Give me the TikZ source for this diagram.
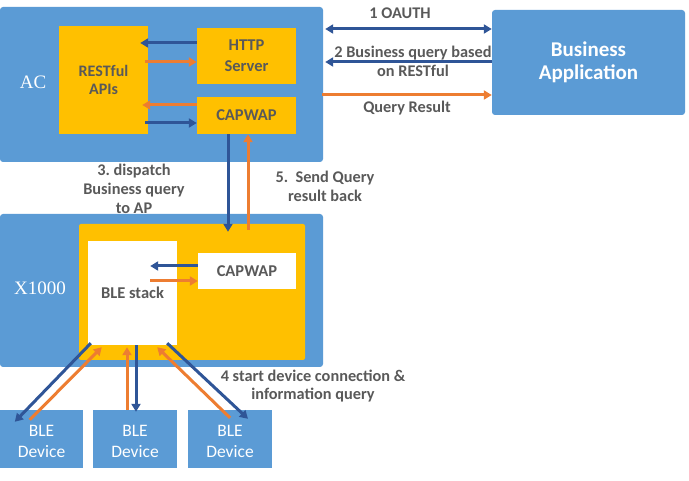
\documentclass[tikz,border=0pt]{standalone}
\usepackage{fontspec}
\setmainfont{Carlito}
\newfontfamily\serifac{Liberation Serif}
\usetikzlibrary{arrows.meta}
\frenchspacing
\definecolor{boxblue}{HTML}{5B9BD5}
\definecolor{boxyellow}{HTML}{FFC000}
\definecolor{arrblue}{HTML}{2F5597}
\definecolor{arrorange}{HTML}{ED7D31}
\definecolor{txtgray}{HTML}{595959}
\tikzset{
  bluebox/.style={fill=boxblue, draw=none, rounded corners=3pt, inner sep=0pt},
  yelbox/.style={fill=boxyellow, draw=none, inner sep=0pt, align=center, text=txtgray, font=\bfseries\fontsize{16.5}{21}\selectfont},
  whitebox/.style={fill=white, draw=none, inner sep=0pt, align=center, text=txtgray, font=\bfseries\fontsize{16.5}{19}\selectfont},
  devbox/.style={fill=boxblue, draw=none, inner sep=0pt, align=center, text=white, font=\fontsize{17.5}{21}\selectfont},
  devtxt/.style={text=white, align=center, font=\fontsize{17.5}{21}\selectfont, inner sep=0pt},
  lbl/.style={text=txtgray, align=center, font=\bfseries\fontsize{16.3}{18.7}\selectfont, inner sep=0pt},
  sertxt/.style={text=white, font=\serifac\fontsize{19}{22}\selectfont, inner sep=0pt},
  barrow/.style={draw=arrblue, line width=3pt, -{Triangle[length=8pt,width=9pt]}},
  oarrow/.style={draw=arrorange, line width=3pt, -{Triangle[length=8pt,width=9pt]}},
  bdarrow/.style={draw=arrblue, line width=3pt, {Triangle[length=8pt,width=9pt]}-{Triangle[length=8pt,width=9pt]}},
}
\begin{document}
\begin{tikzpicture}[x=1pt,y=-1pt]
\useasboundingbox (0,0) rectangle (689,481);
% AC
\node[bluebox, minimum width=323pt, minimum height=155pt] (ac) at (161.5,84.5) {};
\node[sertxt] (actxt) at (33,82) {AC};
\node[yelbox, minimum width=89pt, minimum height=108pt, font=\bfseries\fontsize{16}{18}\selectfont] (rest) at (103.5,80) {RESTful\\APIs};
\node[yelbox, minimum width=99pt, minimum height=56pt] (http) at (246.5,56) {HTTP\\Server};
\node[yelbox, minimum width=99pt, minimum height=37pt] (cap1) at (246.5,115.5) {CAPWAP};
% Business Application
\node[bluebox, minimum width=193pt, minimum height=105pt, text=white, align=center, font=\bfseries\fontsize{21}{23.5}\selectfont] (ba) at (588.5,62.5) {Business\\Application};
% X1000
\node[bluebox, minimum width=323pt, minimum height=153pt] (x1000) at (161.5,290.5) {};
\node[sertxt] (xtxt) at (40,288) {X1000};
\node[yelbox, minimum width=226pt, minimum height=136pt, rounded corners=2pt] (yel2) at (192,292) {};
\node[whitebox, minimum width=89pt, minimum height=104pt] (ble) at (132.5,293) {BLE stack};
\node[whitebox, minimum width=98pt, minimum height=36pt] (cap2) at (247,271) {CAPWAP};
% devices
\node[devbox, minimum width=83pt, minimum height=58pt] (dev1) at (41.5,439) {};
\node[devbox, minimum width=84pt, minimum height=58pt] (dev2) at (135,439) {};
\node[devbox, minimum width=84pt, minimum height=58pt] (dev3) at (230,439) {};
\node[devtxt] (d1t) at ([yshift=-2.5pt]dev1.center) {BLE\\Device};
\node[devtxt] (d2t) at ([yshift=-2.5pt]dev2.center) {BLE\\Device};
\node[devtxt] (d3t) at ([yshift=-2.5pt]dev3.center) {BLE\\Device};
% labels
\node[lbl] (l1) at (400,13) {1 OAUTH};
\node[lbl] (l2) at (413,61.5) {2 Business query based\\on RESTful};
\node[lbl] (l3) at (407,108) {Query Result};
\node[lbl] (l4) at (134,189) {3. dispatch\\Business query\\to AP};
\node[lbl] (l5) at (325,186) {5.~ Send Query\\result back};
\node[lbl] (l6) at (313,386) {4 start device connection \&\\information query};
% AC internal arrows
\draw[barrow] ([yshift=13pt]http.west) -- ([xshift=-8pt,yshift=37pt]rest.east);
\draw[oarrow] ([xshift=-3pt,yshift=18pt]rest.east) -- ([yshift=-6pt]http.west);
\draw[oarrow] ([yshift=10.5pt]cap1.west) -- ([xshift=-6pt,yshift=-25pt]rest.east);
\draw[barrow] ([xshift=-3pt,yshift=-43pt]rest.east) -- ([yshift=-7.5pt]cap1.west);
% AC <-> X1000
\draw[barrow] ([xshift=-18.5pt]cap1.south) -- ([xshift=36pt,yshift=-8pt]yel2.north);
\draw[oarrow] ([xshift=56pt,yshift=-6pt]yel2.north) -- ([xshift=1.5pt]cap1.south);
% AC <-> BA
\draw[bdarrow] ([xshift=2pt,yshift=55.5pt]ac.east) -- ([yshift=33.5pt]ba.west);
\draw[barrow] ([yshift=0.5pt]ba.west) -- ([xshift=2pt,yshift=22.5pt]ac.east);
\draw[oarrow] ([xshift=-1pt,yshift=-10.5pt]ac.east) -- ([yshift=-32.5pt]ba.west);
% X1000 internal
\draw[barrow] ([yshift=5pt]cap2.west) -- ([xshift=-27pt,yshift=27pt]ble.east);
\draw[oarrow] ([xshift=-27pt,yshift=12pt]ble.east) -- ([yshift=-10pt]cap2.west);
% devices
\draw[barrow] ([xshift=3pt,yshift=2pt]ble.south west) -- ([xshift=15pt,yshift=-12pt]dev1.north west);
\draw[oarrow] ([xshift=30pt,yshift=-10pt]dev1.north west) -- ([xshift=14pt,yshift=-2pt]ble.south west);
\draw[oarrow] ([xshift=-8pt]dev2.north) -- ([xshift=-5.5pt,yshift=-2pt]ble.south);
\draw[barrow] ([xshift=3.5pt]ble.south) -- ([xshift=1pt,yshift=-2pt]dev2.north);
\draw[oarrow] ([yshift=-8pt]dev3.north) -- ([xshift=-20pt,yshift=-2pt]ble.south east);
\draw[barrow] ([xshift=-10pt,yshift=2pt]ble.south east) -- ([xshift=18pt,yshift=-9pt]dev3.north);
\end{tikzpicture}
\end{document}
